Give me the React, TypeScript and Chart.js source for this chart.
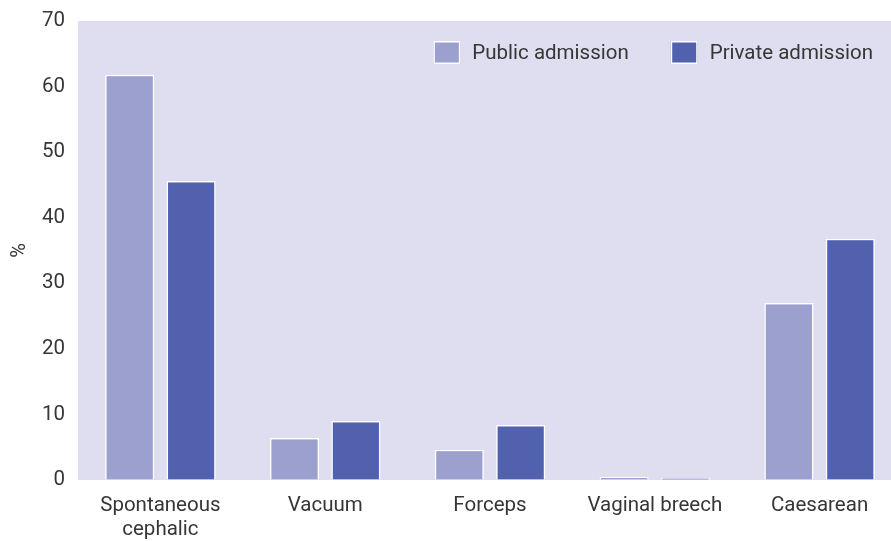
import React, { useEffect, useRef } from "react";
import { Chart, registerables } from "chart.js";

Chart.register(...registerables);

const categories: (string | string[])[] = [
  ["Spontaneous", "cephalic"],
  "Vacuum",
  "Forceps",
  "Vaginal breech",
  "Caesarean",
];
const publicAdmission = [61.8, 6.4, 4.6, 0.5, 27.0];
const privateAdmission = [45.6, 9.0, 8.4, 0.3, 36.8];
const yTicks = [0, 10, 20, 30, 40, 50, 60, 70];

const FONT = "Roboto, 'Noto Sans', sans-serif";
const FS = 20.5;
const TEXT = "#363636";
const BG = "#dedef0";
const VISIBLE_W = 891;

const bgPlugin = {
  id: "plotBg",
  beforeDraw(chart: any) {
    const { ctx, chartArea } = chart;
    ctx.save();
    ctx.fillStyle = BG;
    ctx.fillRect(chartArea.left, chartArea.top, chartArea.right - chartArea.left, chartArea.bottom - chartArea.top);
    ctx.restore();
  },
};

const legendPlugin = {
  id: "customLegend",
  afterDraw(chart: any) {
    const { ctx, chartArea } = chart;
    ctx.save();
    ctx.font = `400 ${FS}px ${FONT}`;
    ctx.textBaseline = "middle";
    const boxW = 27;
    const boxH = 23;
    const gapText = 12;
    const gapItem = 42;
    const ds = chart.data.datasets;
    const widths = ds.map((d: any) => boxW + gapText + ctx.measureText(d.label).width);
    const total = widths.reduce((a: number, b: number) => a + b, 0) + gapItem * (ds.length - 1);
    let x = VISIBLE_W - 18 - total;
    const yc = chartArea.top + 31.5;
    ds.forEach((d: any, i: number) => {
      ctx.fillStyle = d.backgroundColor;
      ctx.fillRect(x, yc - boxH / 2, boxW, boxH);
      ctx.strokeStyle = "#ffffff";
      ctx.lineWidth = 1.5;
      ctx.strokeRect(x + 0.75, yc - boxH / 2 + 0.75, boxW - 1.5, boxH - 1.5);
      ctx.fillStyle = TEXT;
      ctx.textAlign = "left";
      ctx.fillText(d.label, x + boxW + gapText, yc + 1);
      x += widths[i] + gapItem;
    });
    ctx.restore();
  },
};

export default function App() {
  const ref = useRef<HTMLCanvasElement | null>(null);
  useEffect(() => {
    if (!ref.current) return;
    const chart = new Chart(ref.current, {
      type: "bar",
      data: {
        labels: categories,
        datasets: [
          {
            label: "Public admission",
            data: publicAdmission,
            backgroundColor: "#9ca0cf",
            borderColor: "#ffffff",
            borderWidth: 1.5,
          },
          {
            label: "Private admission",
            data: privateAdmission,
            backgroundColor: "#5161ae",
            borderColor: "#ffffff",
            borderWidth: 1.5,
          },
        ],
      },
      options: {
        animation: false,
        responsive: false,
        maintainAspectRatio: false,
        devicePixelRatio: 1,
        layout: { autoPadding: false, padding: { top: 21, right: 0, left: 0, bottom: 0 } },
        datasets: { bar: { categoryPercentage: 0.745, barPercentage: 0.8 } },
        plugins: {
          legend: { display: false },
          tooltip: { enabled: false },
        },
        scales: {
          x: {
            grid: { display: false, drawTicks: false },
            border: { display: false },
            ticks: {
              color: TEXT,
              font: { family: FONT, size: FS, weight: "400", lineHeight: 24 / FS },
              padding: 14,
              maxRotation: 0,
              autoSkip: false,
            },
            afterFit(scale: any) {
              scale.height = 61;
            },
          },
          y: {
            min: 0,
            max: 70,
            grid: {
              display: true,
              color: "rgba(0,0,0,0)",
              drawOnChartArea: false,
              drawTicks: true,
              tickLength: 13,
            },
            border: { display: false },
            afterBuildTicks(scale: any) {
              scale.ticks = yTicks.map((v) => ({ value: v }));
            },
            ticks: {
              color: TEXT,
              font: { family: FONT, size: FS, weight: "400" },
              padding: 0,
            },
            title: {
              display: true,
              text: "%",
              color: TEXT,
              font: { family: FONT, size: 20, weight: "400", lineHeight: 1.2 },
              padding: { top: 8, bottom: 0 },
            },
            afterFit(scale: any) {
              scale.width = 78;
            },
          },
        },
      },
      plugins: [bgPlugin, legendPlugin],
    });
    return () => chart.destroy();
  }, []);
  return (
    <div style={{ position: "fixed", left: 0, top: 0, width: 891, height: 541, overflow: "hidden", background: "#ffffff" }}>
      <canvas ref={ref} width={902} height={541} style={{ display: "block", width: 902, height: 541 }} />
    </div>
  );
}
